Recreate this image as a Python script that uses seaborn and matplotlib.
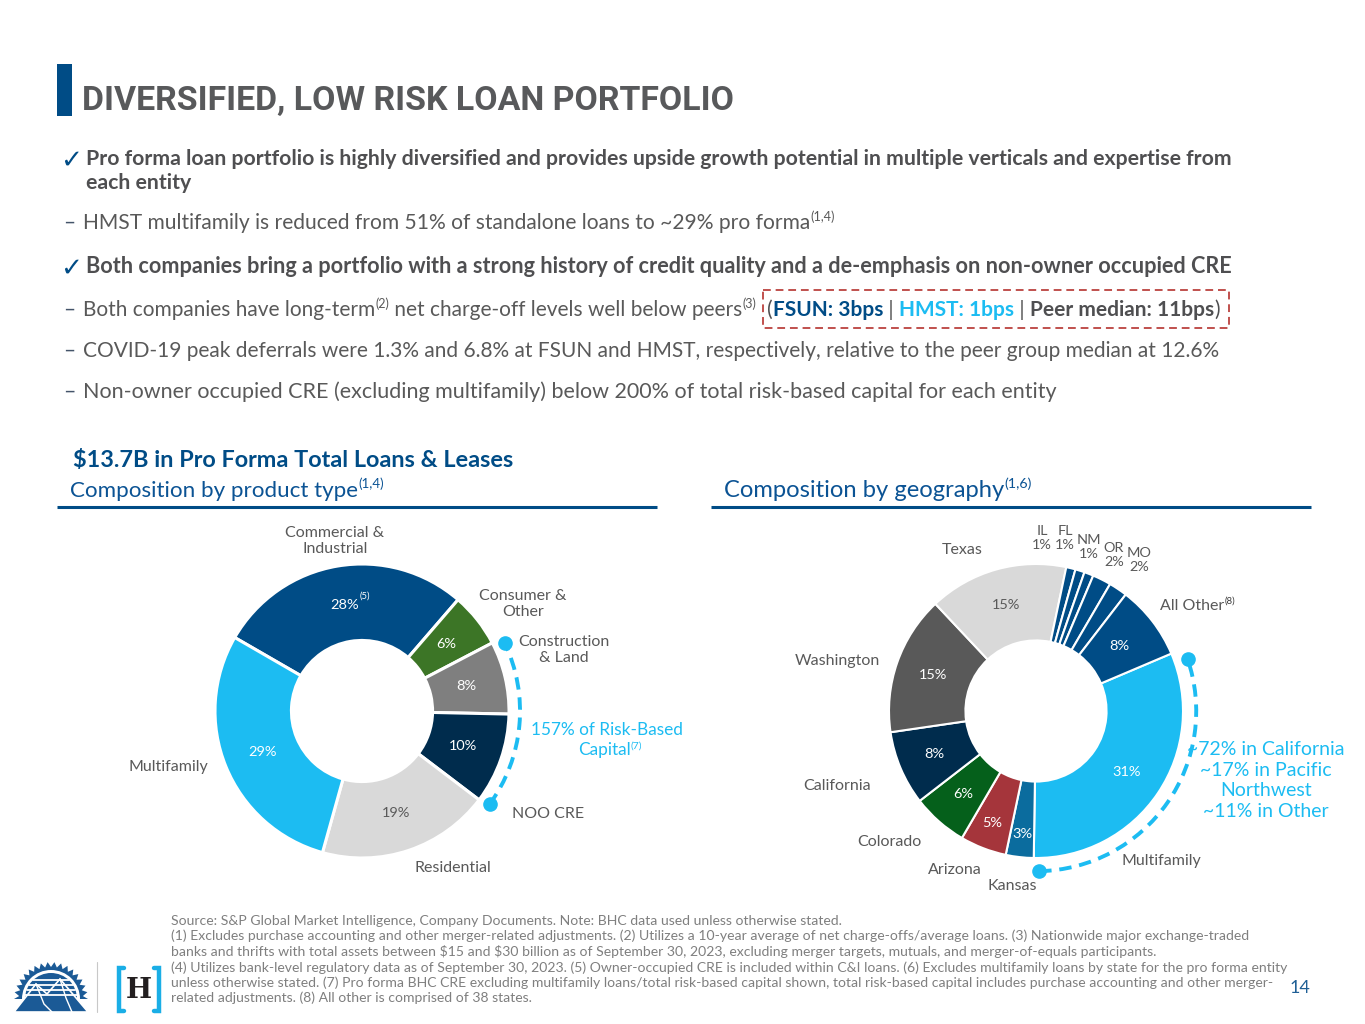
import logging
import numpy as np
import pandas as pd
import matplotlib
matplotlib.use("Agg")
import matplotlib.pyplot as plt
import seaborn as sns
from matplotlib.patches import Rectangle, Arc, Polygon, Wedge

logging.getLogger("matplotlib.font_manager").setLevel(logging.ERROR)

# ---------------- data ----------------
title_text = "DIVERSIFIED, LOW RISK LOAN PORTFOLIO"
product_labels = ["Commercial &\nIndustrial", "Consumer &\nOther", "Construction\n& Land",
                  "NOO CRE", "Residential", "Multifamily"]
product_values = [28, 6, 8, 10, 19, 29]
geo_labels = ["Multifamily", "Kansas", "Arizona", "Colorado", "California", "Washington",
              "Texas", "IL", "FL", "NM", "OR", "MO", "All Other"]
geo_values = [31, 3, 5, 6, 8, 15, 15, 1, 1, 1, 2, 2, 8]
total_loans = "$13.7B"
noo_cre_capital = "157%"
mf_geo_lines = ["~72% in California", "~17% in Pacific", "Northwest", "~11% in Other"]
peer_fsun = "FSUN: 3bps"
peer_hmst = "HMST: 1bps"
peer_median = "Peer median: 11bps"
footnotes = [
    "Source: S&P Global Market Intelligence, Company Documents. Note: BHC data used unless otherwise stated.",
    "(1) Excludes purchase accounting and other merger-related adjustments. (2) Utilizes a 10-year average of net charge-offs/average loans. (3) Nationwide major exchange-traded",
    "banks and thrifts with total assets between $15 and $30 billion as of September 30, 2023, excluding merger targets, mutuals, and merger-of-equals participants.",
    "(4) Utilizes bank-level regulatory data as of September 30, 2023. (5) Owner-occupied CRE is included within C&I loans. (6) Excludes multifamily loans by state for the pro forma entity",
    "unless otherwise stated. (7) Pro forma BHC CRE excluding multifamily loans/total risk-based capital shown, total risk-based capital includes purchase accounting and other merger-",
    "related adjustments. (8) All other is comprised of 38 states.",
]
page_number = "14"

# ---------------- styles ----------------
DB = "#004c86"
LB = "#1cbcf2"
NAVY = "#002c4d"
TG = "#595959"
BG_ = "#4f4f51"
TITLE_G = "#58595b"
FN_G = "#7f7f7f"
DASH_C = "#44546a"
product_colors = [DB, "#3c7526", "#7f7f7f", NAVY, "#d9d9d9", LB]
product_pct_colors = ["white", "white", "white", "white", TG, "white"]
geo_colors = [LB, "#0b6c9e", "#a5353b", "#05601b", NAVY, "#595959", "#d9d9d9",
              DB, DB, DB, DB, DB, DB]
geo_pct_colors = ["white"] * 6 + [TG] + ["white"] * 6
geo_pct_dist = [0.745, 0.845, 0.82, 0.75, 0.75, 0.745, 0.75, 0, 0, 0, 0, 0, 0.72]
small_geo = [7, 8, 9, 10, 11]

sns.set_theme(style="white")
BODY = ["Lato", "DejaVu Sans"]
TITLE_FAM = ["Liberation Sans Narrow", "Roboto", "DejaVu Sans"]
plt.rcParams["font.family"] = BODY

W, H = 1365, 1024
fig = plt.figure(figsize=(W / 100, H / 100), dpi=100)
fig.patch.set_facecolor("white")
bg = fig.add_axes([0, 0, 1, 1])
bg.set_xlim(0, W)
bg.set_ylim(H, 0)
bg.set_autoscale_on(False)
bg.axis("off")
R = fig.canvas.get_renderer()


def T(x, y, s, size, color=TG, weight="normal", family=None, ha="left", va="baseline", top=False, **kw):
    if top:
        return fig.text(x, y, s, fontsize=size, color=color, fontweight=weight, transform=bg.transData,
                        family=family or BODY, ha=ha, va=va, parse_math=False, zorder=10, **kw)
    return bg.text(x, y, s, fontsize=size, color=color, fontweight=weight,
                   family=family or BODY, ha=ha, va=va, parse_math=False, **kw)


def width(s, size, weight="normal", family=None):
    t = bg.text(0, 0, "|" + s + "|", fontsize=size, fontweight=weight,
                family=family or BODY, parse_math=False)
    w1 = t.get_window_extent(R).width
    t.set_text("||")
    w0 = t.get_window_extent(R).width
    t.remove()
    return w1 - w0


def fit(s, target, weight="normal", family=None):
    return 10.0 * target / width(s, 10, weight, family)


SUPF = 0.6


def runs(x, y, parts, size=None, target=None, align="left"):
    def pw(p, sz):
        s, c, w, sup = p
        return width(s, sz * SUPF if sup else sz, w)
    if size is None:
        size = 10.0 * target / sum(pw(p, 10) for p in parts)
    total = sum(pw(p, size) for p in parts)
    if align == "center":
        x = x - total / 2
    pos = []
    for p in parts:
        s, c, w, sup = p
        fs = size * SUPF if sup else size
        dy = -size * (100 / 72) * 0.38 if sup else 0
        T(x, y + dy, s, fs, color=c, weight=w)
        wpx = pw(p, size)
        pos.append((x, x + wpx))
        x += wpx
    return pos, size


# ---------------- header ----------------
bg.add_patch(Rectangle((57, 64), 15, 52, color=DB, lw=0))
fs = fit(title_text, 651, "bold", TITLE_FAM)
T(82, 110, title_text, fs, TITLE_G, "bold", TITLE_FAM)

# bullets
CHK = 19
b1 = "Pro forma loan portfolio is highly diversified and provides upside growth potential in multiple verticals and expertise from"
szb = fit(b1, 1151, "bold")
T(60, 168, "\u2713", CHK, DB, "bold", ["DejaVu Sans"])
T(86, 165, b1, szb, BG_, "bold")
T(86, 189, "each entity", szb, BG_, "bold")

_, s1 = runs(83, 229, [("HMST multifamily is reduced from 51% of standalone loans to ~29% pro forma", TG, "normal", False),
                       ("(1,4)", TG, "normal", True)], target=752)
T(63, 229, "\u2013", s1, DASH_C)

b2 = "Both companies bring a portfolio with a strong history of credit quality and a de-emphasis on non-owner occupied CRE"
szb2 = fit(b2, 1142, "bold")
T(60, 276, "\u2713", CHK, DB, "bold", ["DejaVu Sans"])
T(86, 273, b2, szb2, BG_, "bold")

parts2 = [("Both companies have long-term", TG, "normal", False),
          ("(2)", TG, "normal", True),
          (" net charge-off levels well below peers", TG, "normal", False),
          ("(3)", TG, "normal", True),
          ("  ", TG, "normal", False),
          ("(", BG_, "normal", False),
          (peer_fsun, DB, "bold", False),
          (" | ", TG, "normal", False),
          (peer_hmst, LB, "bold", False),
          (" | ", TG, "normal", False),
          (peer_median, BG_, "bold", False),
          (")", BG_, "normal", False)]
pos2, s2 = runs(83, 316, parts2, target=1139)
T(63, 316, "\u2013", s2, DASH_C)
bx0 = pos2[5][0] - 4
bx1 = pos2[11][1] + 9
bg.add_patch(Rectangle((bx0, 290), bx1 - bx0, 38, fill=False, edgecolor="#c0504d",
                       lw=1.4, linestyle=(0, (4, 2.5))))

b3 = "COVID-19 peak deferrals were 1.3% and 6.8% at FSUN and HMST, respectively, relative to the peer group median at 12.6%"
s3 = fit(b3, 1137)
T(63, 357, "\u2013", s3, DASH_C)
T(83, 357, b3, s3, TG)

b4 = "Non-owner occupied CRE (excluding multifamily) below 200% of total risk-based capital for each entity"
s4 = fit(b4, 972)
T(63, 398, "\u2013", s4, DASH_C)
T(83, 398, b4, s4, TG)

# section headers
sec = f"{total_loans} in Pro Forma Total Loans & Leases"
T(73, 467, sec, fit(sec, 441, "bold"), DB, "bold")
SUBC = "#0b5394"
runs(70, 497, [("Composition by product type", SUBC, "normal", False), ("(1,4)", SUBC, "normal", True)], target=315)
runs(724, 497, [("Composition by geography", SUBC, "normal", False), ("(1,6)", SUBC, "normal", True)], target=308)
bg.plot([57, 657], [507, 507], color=DB, lw=2.2, solid_capstyle="butt")
bg.plot([711, 1311], [507, 507], color=DB, lw=2.2, solid_capstyle="butt")

# ---------------- donuts ----------------
RAD = 147.0
S = 220.0


def donut_axes(cx, cy):
    return fig.add_axes([(cx - S) / W, (H - cy - S) / H, 2 * S / W, 2 * S / H])


def finish(ax):
    ax.set_xlim(-S / RAD, S / RAD)
    ax.set_ylim(-S / RAD, S / RAD)
    ax.set_aspect("equal", adjustable="box")
    ax.set_facecolor("none")
    ax.axis("off")


def to_bg(ax, x, y):
    p = ax.transData.transform((x, y))
    return bg.transData.inverted().transform(p)


lab_size = fit("Washington", 85)
pct_size = fit("15%", 28.5)

# left donut
axL = donut_axes(362, 711)
wl, _ = axL.pie(product_values, colors=product_colors, startangle=150, counterclock=False,
                radius=1, wedgeprops=dict(width=0.52, edgecolor="white", linewidth=2.2))
finish(axL)
for i, w in enumerate(wl):
    a = np.deg2rad((w.theta1 + w.theta2) / 2)
    d = 0.73
    x, y = d * np.cos(a), d * np.sin(a)
    axL.text(x, y, f"{product_values[i]}%", ha="center", va="center", fontsize=pct_size,
             color=product_pct_colors[i], family=BODY)
    if i == 0:
        px, py = to_bg(axL, x, y)
        hw = width(f"{product_values[i]}%", pct_size) / 2
        T(px + hw + 1, py - 9, "(5)", pct_size * 0.65, "white", va="center", top=True)

left_label_pos = [(335, 541), (523, 604), (564, 650), (548, 814), (453, 868), (168, 767)]
for lab, (x, y) in zip(product_labels, left_label_pos):
    T(x, y, lab, lab_size, TG, ha="center", va="center", linespacing=1.1)

# NOO CRE bracket arc
rr = 1.075
t1, t2 = wl[3].theta1, wl[2].theta2
axL.add_patch(Arc((0, 0), 2 * rr, 2 * rr, theta1=t1 + 1, theta2=t2 - 2, color=LB, lw=2.8,
                  linestyle=(0, (3.2, 2.0))))
for t in (t1 + 1, t2 - 2):
    axL.plot([rr * np.cos(np.deg2rad(t))], [rr * np.sin(np.deg2rad(t))], "o", color=LB, ms=9.5)
cap_size = fit(f"{noo_cre_capital} of Risk-Based", 152)
T(607, 735, f"{noo_cre_capital} of Risk-Based", cap_size, LB, ha="center")
runs(610, 755, [("Capital", LB, "normal", False), ("(7)", LB, "normal", True)], size=cap_size, align="center")

# right donut
axR = donut_axes(1036, 711)
wr, _ = axR.pie(geo_values, colors=geo_colors, startangle=23, counterclock=False,
                radius=1, wedgeprops=dict(width=0.52, edgecolor="white", linewidth=1.5))
finish(axR)
for i, w in enumerate(wr):
    if i in small_geo:
        continue
    a = np.deg2rad((w.theta1 + w.theta2) / 2)
    d = geo_pct_dist[i]
    axR.text(d * np.cos(a), d * np.sin(a), f"{geo_values[i]}%", ha="center", va="center",
             fontsize=pct_size, color=geo_pct_colors[i], family=BODY)

geo_label_pos = {0: (1161, 861), 1: (1012, 886), 2: (955, 870), 3: (889, 842), 4: (837, 786),
                 5: (837, 661), 6: (962, 550),
                 7: (1042, 538), 8: (1065, 538), 9: (1089, 547), 10: (1114, 555), 11: (1139, 560)}
small_size = lab_size * 0.9
for i, (x, y) in geo_label_pos.items():
    if i in small_geo:
        T(x, y, f"{geo_labels[i]}\n{geo_values[i]}%", small_size, TG, ha="center", va="center",
          linespacing=1.15)
    else:
        T(x, y, geo_labels[i], lab_size, TG, ha="center", va="center")
runs(1160, 610, [(geo_labels[12], TG, "normal", False), ("(8)", "#3a3a3a", "normal", True)], size=lab_size)

rr2 = 1.09
g1, g2 = wr[0].theta1, wr[0].theta2
axR.add_patch(Arc((0, 0), 2 * rr2, 2 * rr2, theta1=g1 + 2, theta2=g2 - 4, color=LB, lw=2.8,
                  linestyle=(0, (3.2, 2.0))))
for t in (g1 + 2, g2 - 4):
    axR.plot([rr2 * np.cos(np.deg2rad(t))], [rr2 * np.sin(np.deg2rad(t))], "o", color=LB, ms=9.5)
geo_ann_size = fit(mf_geo_lines[0], 158)
for s, yb in zip(mf_geo_lines, [755, 776, 796, 817]):
    T(1266, yb, s, geo_ann_size, LB, ha="center")

# ---------------- footnotes ----------------
fn_size = fit(footnotes[1], 1076)
for s, yb in zip(footnotes, [925, 940.5, 956, 971.5, 987, 1002.5]):
    T(171, yb, s, fn_size, FN_G)
T(1300, 993, page_number, 13, "#1f5f95", ha="center")

# ---------------- logos ----------------
cx, cy = 51, 999
ang = np.linspace(0, np.pi, 35)
rad = np.where(np.arange(35) % 2 == 0, 37, 32)
pts = np.c_[cx + rad * np.cos(ang), cy - rad * np.sin(ang)]
bg.add_patch(Polygon(pts, closed=True, color="#1b5a96", lw=0))
bg.add_patch(Wedge((cx, cy), 29, 180, 360, color="white", lw=0))
bg.add_patch(Wedge((cx, cy), 26, 180, 360, color="#1b5a96", lw=0))
for yy in [cy - 4, cy - 9, cy - 14, cy - 19]:
    half = np.sqrt(max(26 ** 2 - (cy - yy) ** 2, 0))
    bg.plot([cx - half, cx + half], [yy, yy], color="white", lw=1.3)
mount = [(14, 1012), (36, 984), (47, 994), (60, 979), (88, 1012)]
bg.add_patch(Polygon(mount, closed=True, facecolor="#1b5a96", edgecolor="white", lw=1.2))
bg.plot([36, 44, 52], [984, 1004, 1012], color="white", lw=1.0)
bg.plot([60, 66, 72], [979, 998, 1012], color="white", lw=1.0)
bg.plot([97, 97], [962, 1012], color="#c8c8c8", lw=0.8)
# [H]
bg.plot([124, 119, 119, 124], [968, 968, 1011, 1011], color="#1aaee6", lw=3.2, solid_joinstyle="miter")
bg.plot([154, 159, 159, 154], [968, 968, 1011, 1011], color="#1aaee6", lw=3.2, solid_joinstyle="miter")
T(139, 990, "H", 20, "#231f20", "bold", ["DejaVu Serif"], ha="center", va="center")

fig.savefig("out.png", dpi=100)
